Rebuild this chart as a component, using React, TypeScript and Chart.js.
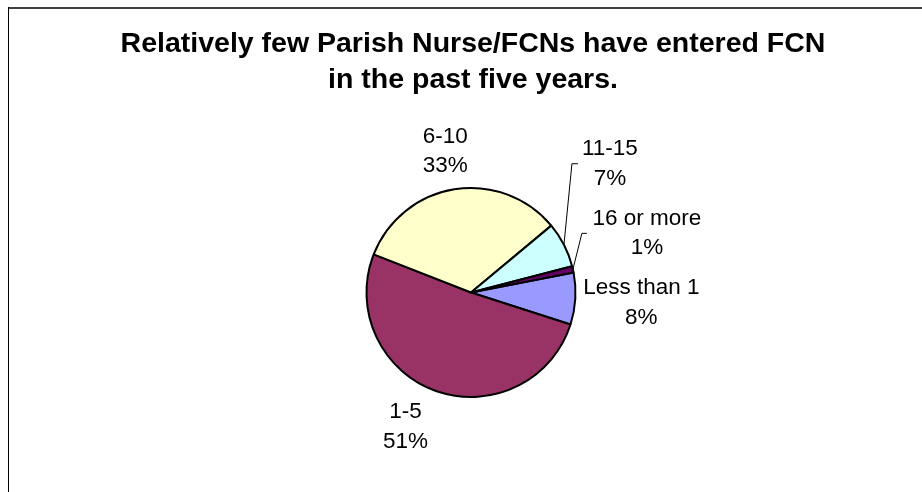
import React, { useEffect, useRef } from "react";
import { Chart, registerables } from "chart.js";

Chart.register(...registerables);

const categories = ["Less than 1", "1-5", "6-10", "11-15", "16 or more"];
const values = [8, 51, 33, 7, 1];
const percentLabels = ["8%", "51%", "33%", "7%", "1%"];
const colors = ["#9999FF", "#993366", "#FFFFCC", "#CCFFFF", "#660066"];
const titleLines = [
  "Relatively few Parish Nurse/FCNs have entered FCN",
  "in the past five years.",
];

// label block offsets relative to the slice's outer edge at its mid angle
const labelOffsets = [
  [66, 4],
  [-30.5, 36],
  [-9, -38],
  [46, -81],
  [74, -36],
];
// leader lines: [elbowDx, endDx] relative to label block centre (null = no leader)
const leaders: (number[] | null)[] = [null, null, null, [-38, -32], [-65, -60]];

const FONT = "'Liberation Sans', Arial, sans-serif";

const overlayPlugin = {
  id: "overlay",
  beforeDraw(chart: any) {
    const ctx = chart.ctx;
    ctx.save();
    ctx.fillStyle = "#fff";
    ctx.fillRect(0, 0, chart.width, chart.height);
    // frame
    ctx.fillStyle = "#404040";
    ctx.fillRect(8, 7, chart.width - 8, 2);
    ctx.fillStyle = "#000";
    ctx.fillRect(8, 7, 1, chart.height - 7);
    // title
    ctx.fillStyle = "#000";
    ctx.font = `bold 28.5px ${FONT}`;
    ctx.textAlign = "center";
    ctx.textBaseline = "alphabetic";
    ctx.fillText(titleLines[0], 473, 52);
    ctx.fillText(titleLines[1], 473, 88);
    ctx.restore();
  },
  afterDatasetsDraw(chart: any) {
    const ctx = chart.ctx;
    const meta = chart.getDatasetMeta(0);
    ctx.save();
    ctx.font = `22.5px ${FONT}`;
    ctx.fillStyle = "#000";
    ctx.textAlign = "center";
    ctx.textBaseline = "middle";
    meta.data.forEach((arc: any, i: number) => {
      const { x, y, startAngle, endAngle, outerRadius } = arc.getProps(
        ["x", "y", "startAngle", "endAngle", "outerRadius"],
        true
      );
      const mid = (startAngle + endAngle) / 2;
      const ex = x + Math.cos(mid) * outerRadius;
      const ey = y + Math.sin(mid) * outerRadius;
      const cx = ex + labelOffsets[i][0];
      const cy = ey + labelOffsets[i][1];
      const lh = 29.5;
      ctx.fillText(categories[i], cx, cy - lh / 2);
      ctx.fillText(percentLabels[i], cx, cy + lh / 2);
      const ld = leaders[i];
      if (ld) {
        ctx.strokeStyle = "#000";
        ctx.lineWidth = 1;
        ctx.beginPath();
        ctx.moveTo(ex, ey);
        ctx.lineTo(cx + ld[0], cy);
        ctx.lineTo(cx + ld[1], cy);
        ctx.stroke();
      }
    });
    ctx.restore();
  },
};

export default function App() {
  const ref = useRef<HTMLCanvasElement>(null);
  useEffect(() => {
    document.body.style.margin = "0";
    const chart = new Chart(ref.current!, {
      type: "pie",
      data: {
        labels: categories,
        datasets: [
          {
            data: values,
            backgroundColor: colors,
            borderColor: "#000",
            borderWidth: 2,
          },
        ],
      },
      options: {
        responsive: false,
        animation: false,
        rotation: 79,
        layout: { padding: { left: 365.5, right: 345.5, top: 187, bottom: 94 } },
        plugins: {
          legend: { display: false },
          tooltip: { enabled: false },
          title: { display: false },
        },
      },
      plugins: [overlayPlugin],
    });
    return () => chart.destroy();
  }, []);
  return (
    <div style={{ width: 922, height: 492, overflow: "hidden" }}>
      <canvas ref={ref} width={922} height={492} style={{ display: "block" }} />
    </div>
  );
}
